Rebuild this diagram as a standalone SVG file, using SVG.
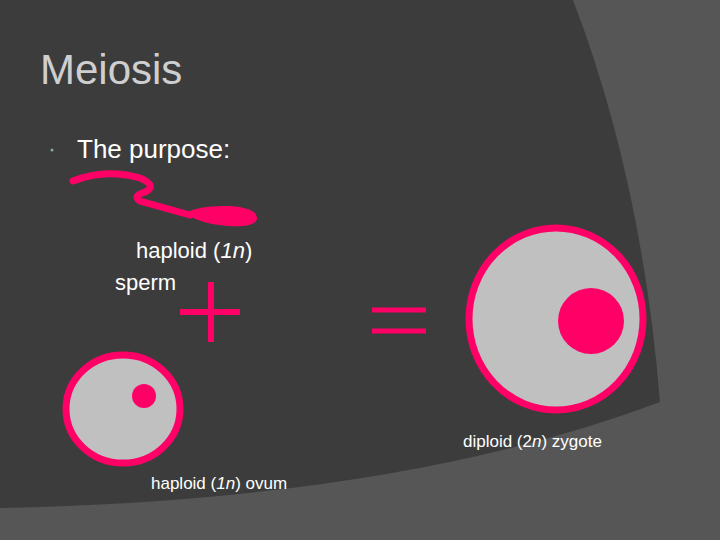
<svg xmlns="http://www.w3.org/2000/svg" width="720" height="540" viewBox="0 0 720 540">
<style>
text{font-family:"Liberation Sans",Arial,sans-serif;fill:#fff}
.cell{fill:#c0c0c0;stroke:#ff0066;stroke-width:7}
.pk{fill:#ff0066}
.ln{stroke:#ff0066;fill:none}
</style>
<rect width="720" height="540" fill="#565656"/>
<path d="M0,0 L573,0 Q642,180 660,402 Q400,500 0,508 Z" fill="#3c3c3c"/>
<text x="40" y="84" font-size="42" style="fill:#cfcfcf">Meiosis</text>
<circle cx="52" cy="150" r="1.5" fill="#8aa"/>
<text x="77" y="158" font-size="26">The purpose:</text>
<g id="sperm">
<path class="ln" stroke-width="7" stroke-linecap="round" d="M73,181 Q105,168 140,178 Q158,186 145,192 Q132,196 140,201 L190,215"/>
<path class="pk" d="M185,213 Q200,205 230,206 Q258,208 257,219 Q255,228 228,226 Q200,224 185,213 Z"/>
<text x="136" y="258" font-size="22">haploid (<tspan font-style="italic">1n</tspan>)</text>
<text x="115" y="290" font-size="22">sperm</text>
</g>
<g id="plus" class="ln" stroke-width="6"><path d="M211,282 V342 M180,312 H240"/></g>
<g id="equals" class="ln" stroke-width="5"><path d="M372,310 H426 M372,331 H426"/></g>
<g id="ovum">
<ellipse class="cell" cx="123" cy="409" rx="57" ry="54"/>
<circle class="pk" cx="144" cy="396" r="12"/>
<text x="151" y="489" font-size="17">haploid (<tspan font-style="italic">1n</tspan>) ovum</text>
</g>
<g id="zygote">
<ellipse class="cell" cx="556" cy="319" rx="87" ry="91"/>
<circle class="pk" cx="591" cy="321" r="33"/>
<text x="463" y="447" font-size="17">diploid (2<tspan font-style="italic">n</tspan>) zygote</text>
</g>
</svg>
